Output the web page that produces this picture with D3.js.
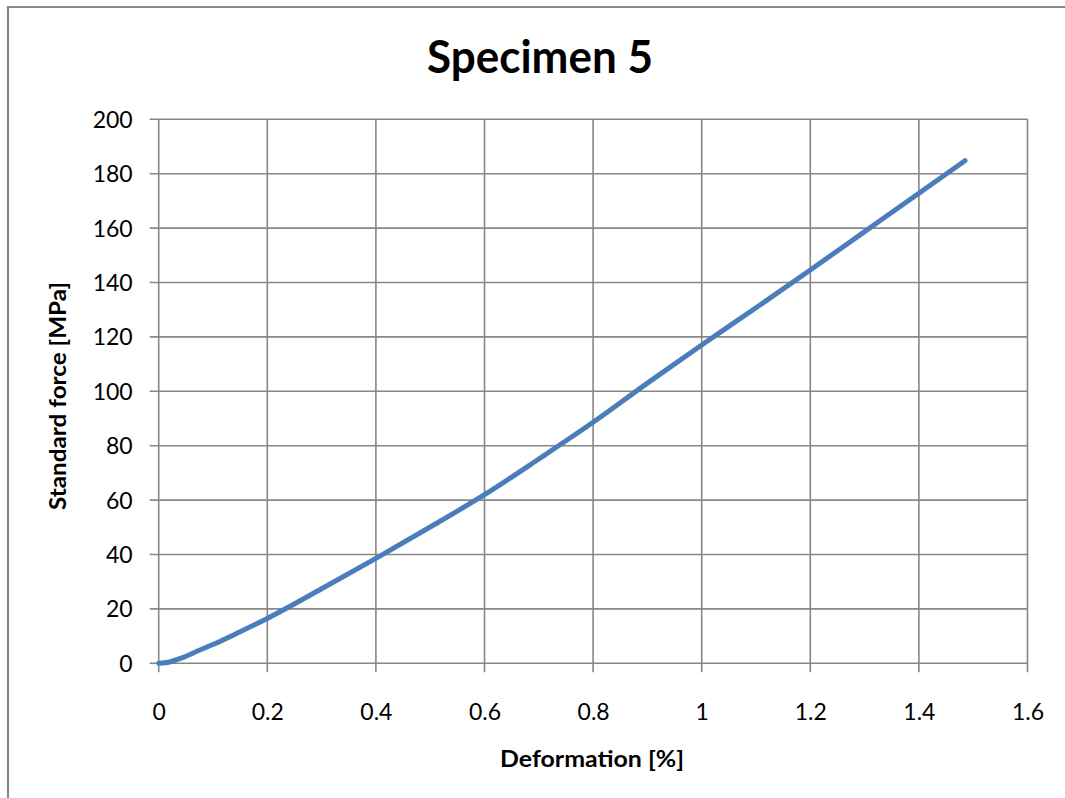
<!DOCTYPE html>
<html>
<head>
<meta charset="utf-8">
<script src="https://cdn.jsdelivr.net/npm/d3@7"></script>
<style>
  body { margin: 0; background: #fff; }
  svg { display: block; }
</style>
</head>
<body>
<div id="chart"></div>
<script>
// values
const deformation = [0, 0.02, 0.04, 0.076, 0.1, 0.15, 0.2, 0.3, 0.4, 0.5, 0.6, 0.7, 0.8, 0.9, 1.0, 1.1, 1.2, 1.3, 1.4, 1.485];
const force = [0, 0.5, 1.8, 4.9, 6.9, 11.6, 16.5, 27.4, 38.6, 50.1, 62.0, 75.1, 88.6, 103, 117, 130.7, 144.6, 158.7, 172.8, 184.8];
const xTicks = [0, 0.2, 0.4, 0.6, 0.8, 1, 1.2, 1.4, 1.6];
const yTicks = [0, 20, 40, 60, 80, 100, 120, 140, 160, 180, 200];

const data = deformation.map((d, i) => ({ x: d, y: force[i] }));

const width = 1065;
const height = 798;
const margin = { top: 119.3, right: 37.5, bottom: 134.7, left: 158.7 };
const font = "Lato, 'Open Sans', sans-serif";
const gridColor = "#878787";

const svg = d3.select("#chart")
  .append("svg")
  .attr("width", width)
  .attr("height", height);

// outer chart border (only left and top visible in the picture)
svg.append("path")
  .attr("d", `M8,${height} V7 H${width}`)
  .attr("fill", "none")
  .attr("stroke", "#8a8a8a")
  .attr("stroke-width", 2.2);

const x = d3.scaleLinear()
  .domain([0, 1.6])
  .range([margin.left, width - margin.right]);

const y = d3.scaleLinear()
  .domain([0, 200])
  .range([height - margin.bottom, margin.top]);

// gridlines
svg.append("g")
  .selectAll("line")
  .data(yTicks)
  .enter()
  .append("line")
  .attr("x1", x(0) - 9)
  .attr("x2", x(1.6))
  .attr("y1", d => y(d))
  .attr("y2", d => y(d))
  .attr("stroke", gridColor)
  .attr("stroke-width", 1.6);

svg.append("g")
  .selectAll("line")
  .data(xTicks)
  .enter()
  .append("line")
  .attr("x1", d => x(d))
  .attr("x2", d => x(d))
  .attr("y1", y(200))
  .attr("y2", y(0) + 9)
  .attr("stroke", gridColor)
  .attr("stroke-width", 1.6);

// axes labels via d3 axes (domain/ticks hidden, gridlines drawn above)
const xAxis = svg.append("g")
  .attr("transform", `translate(0,${y(0)})`)
  .call(d3.axisBottom(x).tickValues(xTicks).tickSize(0).tickPadding(40).tickFormat(d3.format("")));

const yAxis = svg.append("g")
  .attr("transform", `translate(${x(0)},0)`)
  .call(d3.axisLeft(y).tickValues(yTicks).tickSize(0).tickPadding(26));

[xAxis, yAxis].forEach(g => {
  g.select(".domain").remove();
  g.selectAll("text")
    .style("font-family", font)
    .style("font-size", "23px")
    .attr("fill", "#000");
});
yAxis.selectAll("text").attr("dy", "0.35em");
xAxis.selectAll("text").attr("dy", "0.71em");

// curve
const line = d3.line()
  .x(d => x(d.x))
  .y(d => y(d.y))
  .curve(d3.curveMonotoneX);

svg.append("path")
  .datum(data)
  .attr("fill", "none")
  .attr("stroke", "#4a7ebb")
  .attr("stroke-width", 5)
  .attr("stroke-linecap", "round")
  .attr("stroke-linejoin", "round")
  .attr("d", line);

// titles
svg.append("text")
  .attr("x", 540)
  .attr("y", 73)
  .attr("text-anchor", "middle")
  .attr("textLength", 226)
  .attr("lengthAdjust", "spacingAndGlyphs")
  .style("font-family", font)
  .style("font-weight", "bold")
  .style("font-size", "45px")
  .text("Specimen 5");

svg.append("text")
  .attr("x", 592)
  .attr("y", 767)
  .attr("text-anchor", "middle")
  .attr("textLength", 184)
  .attr("lengthAdjust", "spacingAndGlyphs")
  .style("font-family", font)
  .style("font-weight", "bold")
  .style("font-size", "22px")
  .text("Deformation [%]");

svg.append("text")
  .attr("transform", "rotate(-90)")
  .attr("x", -396)
  .attr("y", 66)
  .attr("text-anchor", "middle")
  .attr("textLength", 228)
  .attr("lengthAdjust", "spacingAndGlyphs")
  .style("font-family", font)
  .style("font-weight", "bold")
  .style("font-size", "22px")
  .text("Standard force [MPa]");
</script>
</body>
</html>
